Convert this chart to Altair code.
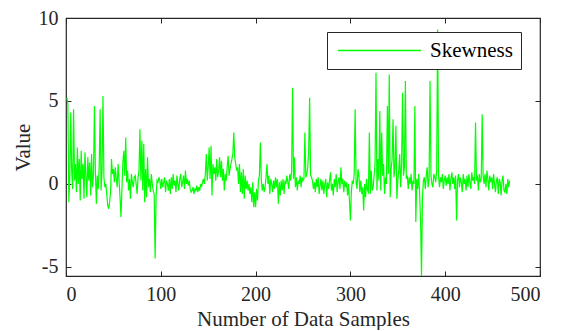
import altair as alt
import pandas as pd

series_name = "Skewness"
x_ticks = [0, 100, 200, 300, 400, 500]
y_ticks = [-5, 0, 5, 10]

skewness = [
    5.2, 4.8, -1.1, 0.5, 4.3, 0.8, -0.3, 4.5, 0.2, 1.2,
    -0.5, 2.2, 0.0, 1.5, -1.0, 2.0, 0.3, 1.2, -0.9, 1.9,
    0.5, -0.8, 1.6, 0.2, 1.3, -0.7, 1.8, -0.2, 0.6, 4.7,
    0.8, -1.2, 0.5, -0.3, 1.0, 4.5, -0.4, 0.8, 5.3, 0.4,
    -0.2, 0.0, -0.6, -1.3, -1.5, -1.1, -0.5, 1.5, 0.6, 0.9,
    0.1, 1.0, 0.3, -0.2, 1.2, 0.2, -0.8, -2.0, -0.3, 1.3,
    2.0, 0.5, 2.8, 0.1, 0.8, -0.4, 0.3, -0.9, 0.6, 0.1,
    -0.2, 0.4, 0.5, 0.0, -0.6, 0.4, 0.8, 3.3, 0.2, 2.6,
    -0.4, 2.4, -1.1, 0.9, -0.8, 1.6, -0.2, 0.3, -0.5, 0.6,
    0.0, -0.4, -0.6, -4.5, -0.8, 0.2, 0.1, 0.4, 0.2, -0.3,
    0.3, -0.2, 0.1, 0.4, -0.5, 0.2, 0.0, -0.4, 0.3, -0.6,
    0.4, -0.3, 0.6, -0.1, 0.2, -0.5, 0.5, 0.0, -0.4, 0.3,
    0.6, -0.2, 0.1, 0.5, -0.3, 0.8, 0.0, 0.3, -0.1, 0.2,
    -0.3, -0.5, -0.4, -0.2, -0.6, -0.3, -0.4, -0.1, -0.5, -0.2,
    -0.4, 0.0, -0.2, 0.1, 0.3, 0.0, 0.6, 1.8, 0.2, 1.0,
    2.2, 0.3, 2.3, -0.7, 1.2, 0.6, 1.0, 0.2, 1.5, 0.4,
    0.8, 1.6, 0.4, 1.4, 0.2, 0.9, -0.4, 0.6, 0.2, 1.0,
    1.7, 0.5, 0.9, 1.2, 1.5, 1.8, 3.1, 1.6, 1.2, 0.8,
    1.0, 0.0, 1.2, -0.5, 0.7, -0.6, 0.9, -0.9, 0.5, -0.3,
    0.2, -0.4, 0.0, -0.6, -0.2, -1.1, 0.1, -1.4, -0.5, -1.4,
    -0.3, -1.0, 0.2, 0.5, 2.5, 0.3, -0.4, 0.0, -0.5, -0.2,
    0.4, 1.2, 0.0, 0.5, -0.6, 0.3, 0.0, -0.5, 0.2, -0.3,
    0.4, -0.2, 0.3, -1.2, 0.1, -0.7, 0.2, -0.4, 0.3, -0.6,
    0.2, 0.0, 0.5, 0.1, -0.3, 0.6, 0.2, 0.8, 5.8, 0.3,
    1.6, -0.2, 0.4, -0.4, 0.2, 0.0, 0.5, -0.2, 0.4, 0.2,
    0.3, 3.1, 0.4, 0.6, 1.0, 2.0, 5.2, 0.5, 0.4, 0.2,
    -0.3, 0.1, -0.5, 0.3, -0.2, 0.4, -0.6, -0.1, 0.3, -0.4,
    0.2, -0.6, 0.0, 0.3, -0.8, 0.1, -0.3, 0.2, 0.7, -0.4,
    0.0, -0.7, 0.3, -0.2, 0.6, -0.5, 0.1, 0.4, -0.3, 1.0,
    0.0, 0.3, -0.5, 0.2, -0.2, 0.1, -0.7, 0.0, -1.0, -2.2,
    -0.5, 0.2, 0.0, 0.6, 4.5, 0.1, -0.3, 0.9, 0.5, -0.5,
    0.2, -0.6, -0.2, -1.6, 0.0, -0.8, 0.3, -0.4, -0.5, 3.1,
    -0.6, 0.8, -0.4, -0.2, 0.5, 1.2, 6.7, -0.4, 1.5, 0.2,
    4.4, -0.4, 3.1, 0.5, 1.2, -0.6, 0.4, 0.0, 4.7, 0.6,
    6.6, -0.8, 0.9, 1.5, 3.9, 0.4, 1.0, 3.5, -0.9, 0.2,
    0.8, 1.8, -0.2, 1.2, 5.5, 0.5, 1.0, 6.2, 0.3, 0.5,
    -0.3, 0.4, 0.0, 0.6, -0.4, 0.2, 0.0, 4.7, -2.3, 0.3,
    -0.3, 0.6, -0.5, -2.2, -5.55, -0.8, 0.2, 0.4, -0.3, 0.5,
    1.0, -0.2, 0.3, 6.2, 0.5, 0.0, -0.2, 0.6, 0.4, 0.1,
    0.8, 9.3, 0.5, -0.2, 0.4, 0.1, 0.6, -0.3, 0.2, 0.5,
    -0.1, 0.4, 0.0, 0.6, -0.4, 0.3, 0.7, 0.0, 0.4, -0.3,
    0.5, -2.2, 0.2, 0.6, -0.2, 0.4, 0.1, -0.5, 0.6, 0.0,
    0.3, -0.4, 0.5, -0.2, 0.6, 0.1, -0.3, 0.7, 0.2, 0.4,
    0.0, 3.7, 0.2, 0.5, -0.4, 0.6, 0.1, 0.3, 4.2, 0.5,
    0.0, 0.6, -0.2, 0.8, 0.3, -0.4, 0.5, 0.1, 0.4, -0.3,
    0.6, 0.0, -0.5, 0.2, 0.4, -0.6, 0.3, 0.1, -0.7, 0.2,
    0.5, -0.4, -0.5, 0.0, -0.6, 0.3, -0.2, 0.2,
]

df = pd.DataFrame({
    "sample": list(range(1, len(skewness) + 1)),
    "value": skewness,
    "series": [series_name] * len(skewness),
})

FONT = "Liberation Serif"
AX = "#262626"
LABEL_EXPR = "'' + datum.value"

xscale = alt.Scale(domain=[0, 500], nice=False, zero=False)
yscale = alt.Scale(domain=[-5.55, 10], nice=False, zero=False)

main = alt.Chart(df).mark_line(strokeWidth=1.2, clip=True).encode(
    x=alt.X("sample:Q", scale=xscale,
            axis=alt.Axis(values=x_ticks, title="Number of Data Samples", orient="bottom",
                          grid=False, domain=False, offset=-5, tickSize=5, tickColor=AX,
                          labelExpr=LABEL_EXPR,
                          labelFont=FONT, labelFontSize=20, labelColor=AX, labelPadding=8,
                          titleFont=FONT, titleFontSize=21, titleFontWeight="normal",
                          titleColor=AX, titlePadding=4)),
    y=alt.Y("value:Q", scale=yscale,
            axis=alt.Axis(values=y_ticks, title="Value", orient="left",
                          grid=False, domain=False, offset=-5, tickSize=5, tickColor=AX,
                          labelExpr=LABEL_EXPR,
                          labelFont=FONT, labelFontSize=20, labelColor=AX, labelPadding=8,
                          titleFont=FONT, titleFontSize=21, titleFontWeight="normal",
                          titleColor=AX, titlePadding=5)),
    color=alt.Color("series:N", scale=alt.Scale(range=["#00FF00"]),
                    legend=alt.Legend(title=None, orient="none", legendX=261, legendY=14,
                                      symbolType="M-5,0H5", symbolSize=276,
                                      symbolStrokeWidth=1.5, symbolOffset=34,
                                      labelFont=FONT, labelFontSize=21, labelColor="#000000",
                                      labelOffset=40, padding=8, fillColor="white",
                                      strokeColor=AX)),
)

frame = alt.Chart(df).mark_line(strokeOpacity=0).encode(
    x=alt.X("sample:Q", scale=xscale,
            axis=alt.Axis(values=x_ticks, title=None, orient="top", labels=False,
                          grid=False, domain=False, offset=-5, tickSize=5, tickColor=AX)),
    y=alt.Y("value:Q", scale=yscale,
            axis=alt.Axis(values=y_ticks, title=None, orient="right", labels=False,
                          grid=False, domain=False, offset=-5, tickSize=5, tickColor=AX)),
)

chart = alt.layer(frame, main).resolve_axis(x="independent", y="independent").properties(
    width=474, height=258,
    autosize=alt.AutoSizeParams(type="none"),
    padding={"left": 58, "top": 10, "right": 19, "bottom": 54},
    background="white",
).configure_view(stroke=AX, strokeWidth=1.2).configure_axis(
    labelFont=FONT, titleFont=FONT
).configure_legend(labelFont=FONT)

chart.save("out.html", embed_options={"renderer": "svg", "actions": False})
